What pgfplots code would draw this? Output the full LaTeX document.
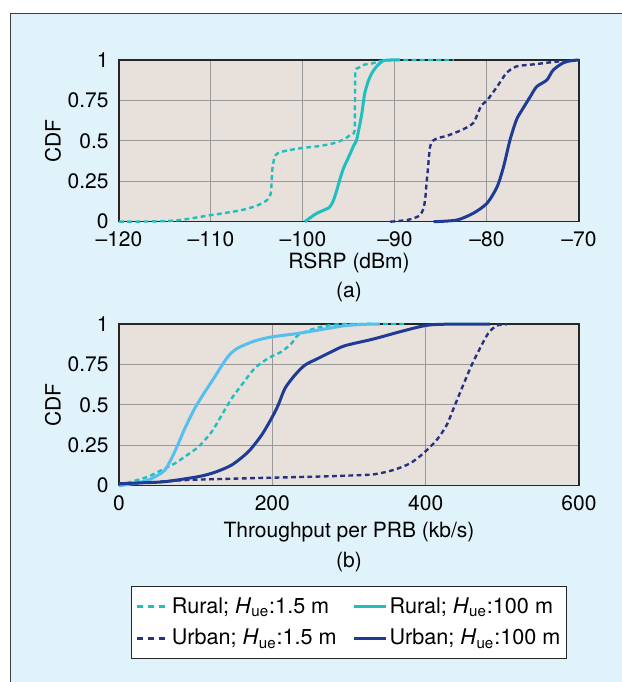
\documentclass[border=0pt]{standalone}
\usepackage{fontspec}
\setmainfont{TeX Gyre Heros}
\usepackage{pgfplots}
\pgfplotsset{compat=1.18}
\definecolor{outerbg}{HTML}{E0F2FA}
\definecolor{plotbg}{HTML}{E8E0DB}
\definecolor{ruralc}{HTML}{1FBFBF}
\definecolor{skyc}{HTML}{55BFEE}
\definecolor{urbdash}{HTML}{283282}
\definecolor{urbsolid}{HTML}{1E3C96}
\newcommand\figfont{\fontsize{10.5}{12.6}\selectfont}
\newcommand\legfont{\fontsize{10.8}{13}\selectfont}

\pgfplotsset{
  cdfaxis/.style={
    scale only axis,
    width=230pt, height=80.85pt,
    axis background/.style={fill=plotbg},
    grid=major,
    grid style={draw=black!40, line width=0.5pt},
    major tick length=0pt,
    axis line style={draw=black!85, line width=0.6pt},
    ymin=0, ymax=1,
    ytick={0,0.25,0.5,0.75,1},
    yticklabels={0,0.25,0.5,0.75,1},
    tick label style={font=\figfont},
    label style={font=\figfont},
    xticklabel style={anchor=center, yshift=-8.8pt},
    yticklabel style={anchor=east, inner sep=0pt, xshift=-5pt},
    ylabel={CDF},
    ylabel style={at={(axis description cs:-0.1435,0.5)}, anchor=center},
    clip=false,
  },
  dsh/.style={line width=1.2pt, dash pattern=on 2.4pt off 1.7pt, smooth, tension=0.45},
  sld/.style={line width=1.5pt, line join=round, smooth, tension=0.45},
}

\begin{document}
\begin{tikzpicture}
\useasboundingbox (0pt,0pt) rectangle (311pt,341pt);
\fill[outerbg] (5.35pt,0pt) rectangle (311pt,334.35pt);
\draw[black!75, line width=0.6pt] (5.35pt,0pt) -- (5.35pt,334.35pt) -- (311pt,334.35pt);

% (a) RSRP
\begin{axis}[cdfaxis,
  at={(59.5pt,230.15pt)}, anchor=south west,
  xmin=-120, xmax=-70,
  xtick={-120,-110,-100,-90,-80,-70},
  xticklabels={–120,–110,–100,–90,–80,–70},
  xlabel={RSRP (dBm)},
  xlabel style={at={(axis description cs:0.5,-0.257)}, anchor=center},
]
\addplot[ruralc, dsh] coordinates {
  (-120,0) (-116,0.002) (-113.4,0.01) (-110.1,0.04) (-106.8,0.07) (-105.0,0.10)
  (-103.9,0.134) (-103.5,0.175) (-103.4,0.258) (-103.3,0.34) (-103.0,0.41)
  (-102.3,0.433) (-100.3,0.454) (-98.2,0.468) (-96.7,0.485) (-95.5,0.51)
  (-94.9,0.536) (-94.4,0.56) (-94.35,0.75) (-94.3,0.93) (-94.0,0.95)
  (-93.4,0.97) (-92.4,0.98) (-91.5,0.995) (-90,1) (-83.6,1)
};
\addplot[ruralc, sld] coordinates {
  (-99.8,0) (-99.2,0.025) (-98.5,0.052) (-97.6,0.075) (-97.1,0.09) (-96.7,0.13)
  (-96.3,0.2) (-96.0,0.26) (-95.6,0.33) (-95.2,0.38) (-94.8,0.43) (-94.5,0.47)
  (-94.2,0.5) (-93.9,0.58) (-93.6,0.67) (-93.3,0.79) (-92.9,0.87) (-92.5,0.92)
  (-92.0,0.96) (-91.3,0.995) (-90.5,1) (-89.5,1)
};
\addplot[urbdash, dsh] coordinates {
  (-90.5,0) (-88.7,0.01) (-87.8,0.025) (-87.3,0.04) (-86.9,0.08) (-86.7,0.15)
  (-86.6,0.22) (-86.4,0.34) (-86.2,0.46) (-85.9,0.5) (-85.2,0.52) (-84.4,0.53)
  (-82.6,0.571) (-81.5,0.61) (-81.0,0.67) (-80.6,0.72) (-80.0,0.75) (-78.9,0.835)
  (-77.9,0.918) (-76.8,0.96) (-74.6,0.975) (-72.4,0.99) (-70.2,0.998)
};
\addplot[urbsolid, sld] coordinates {
  (-85.8,0) (-83.3,0.01) (-81.5,0.052) (-80.0,0.114) (-78.9,0.216) (-78.2,0.34)
  (-77.5,0.505) (-76.8,0.63) (-76.2,0.69) (-75.3,0.773) (-74.6,0.835) (-73.5,0.876)
  (-72.8,0.938) (-71.7,0.983) (-70.8,0.996) (-70,1)
};
\end{axis}
\node[font=\figfont] at (174.5pt,194.85pt) {(a)};

% (b) Throughput
\begin{axis}[cdfaxis,
  at={(59.5pt,98.15pt)}, anchor=south west,
  xmin=0, xmax=600,
  xtick={0,200,400,600},
  xticklabels={0,200,400,600},
  xlabel={Throughput per PRB (kb/s)},
  xlabel style={at={(axis description cs:0.5,-0.2845)}, anchor=center},
  legend columns=2,
  legend style={at={(axis description cs:0.5,-0.846)}, anchor=center,
    draw=black!85, line width=0.6pt, fill=white, font=\legfont,
    inner xsep=2pt, inner ysep=3.5pt, row sep=2.5pt,
    cells={anchor=west},
    nodes={inner xsep=1pt},
    /tikz/every odd column/.style={},
    /tikz/every even column/.style={},
    /tikz/column 2/.style={column sep=7pt}},
  legend cell align=left,
  legend image code/.code={\draw[#1] (0pt,0pt) -- (16pt,0pt);},
]
\addplot[ruralc, dsh, forget plot] coordinates {
  (0,0) (16.5,0.025) (38,0.056) (55.7,0.097) (73,0.138) (86,0.18) (103.5,0.24)
  (121,0.334) (134,0.437) (147,0.54) (160,0.623) (177,0.726) (194.7,0.788)
  (212,0.829) (225,0.88) (234,0.932) (255.6,0.973) (277,0.994) (300,1) (375,1)
};
\addplot[skyc, sld, forget plot] coordinates {
  (0,0) (20.9,0.015) (38,0.035) (51,0.066) (60,0.097) (68.7,0.17) (77.4,0.26)
  (86,0.355) (99,0.48) (112,0.58) (125,0.674) (136,0.757) (144.8,0.813)
  (155.6,0.853) (177,0.895) (199,0.92) (234,0.942) (273,0.973) (295,0.99)
  (320,0.998) (340,1)
};
\addplot[urbdash, dsh, forget plot] coordinates {
  (0,0.01) (40,0.02) (88,0.035) (168.7,0.046) (255.6,0.056) (295,0.062)
  (331.7,0.07) (357.8,0.097) (379.6,0.138) (397,0.2) (414.4,0.283) (427.4,0.375)
  (438.3,0.5) (449,0.623) (460,0.746) (470.9,0.85) (481.7,0.943) (492.6,0.99)
  (505.7,0.998)
};
\addplot[urbsolid, sld, forget plot] coordinates {
  (0,0.012) (30,0.018) (60,0.025) (103.5,0.056) (125,0.083) (147,0.128)
  (168.7,0.21) (186,0.313) (199,0.417) (207.8,0.5) (216.5,0.602) (229.6,0.685)
  (242.6,0.746) (260,0.788) (277.4,0.829) (294.8,0.866) (331.7,0.907)
  (366.5,0.952) (397,0.988) (418.7,0.998) (484,1)
};
\addlegendimage{ruralc, line width=1.2pt, dash pattern=on 3pt off 2.5pt}
\addlegendentry{Rural; \textit{H}\textsubscript{ue}:1.5 m}
\addlegendimage{ruralc, line width=1.5pt}
\addlegendentry{Rural; \textit{H}\textsubscript{ue}:100 m}
\addlegendimage{urbdash, line width=1.2pt, dash pattern=on 3pt off 2.5pt}
\addlegendentry{Urban; \textit{H}\textsubscript{ue}:1.5 m}
\addlegendimage{urbsolid, line width=1.5pt}
\addlegendentry{Urban; \textit{H}\textsubscript{ue}:100 m}
\end{axis}
\node[font=\figfont] at (174.5pt,60pt) {(b)};
\end{tikzpicture}
\end{document}
